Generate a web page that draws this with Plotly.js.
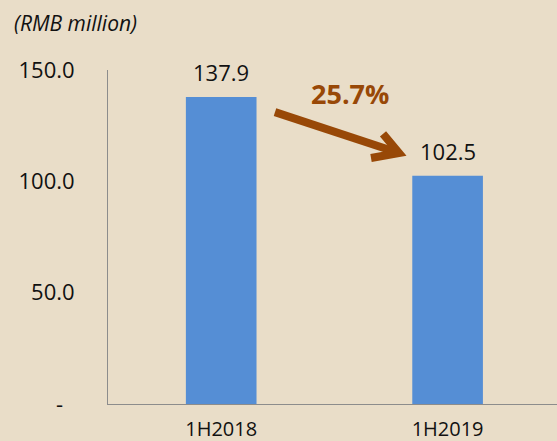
<!DOCTYPE html>
<html>
<head>
<meta charset="utf-8">
<script src="https://cdn.plot.ly/plotly-3.0.1.min.js"></script>
<style>
html,body{margin:0;padding:0;background:#e9ddc8;}
#chart{width:557px;height:441px;}
</style>
</head>
<body>
<div id="chart"></div>
<script>
const categories = ["1H2018", "1H2019"];
const values = [137.9, 102.5];
const valueLabels = ["137.9", "102.5"];
const yTickVals = [0, 50, 100, 150];
const yTickText = ["-\u00a0\u00a0", "50.0", "100.0", "150.0"];
const unitLabel = "(RMB million)";
const changeLabel = "25.7%";

const font = "'Open Sans', 'Liberation Sans', sans-serif";
const brown = "#984807";

const trace = {
  type: "bar",
  x: [0, 1],
  y: values,
  width: 0.312,
  marker: {color: "#558ed5"},
  hoverinfo: "skip"
};

const annotations = values.map((v, i) => ({
  x: i, y: v, xref: "x", yref: "y",
  text: valueLabels[i], showarrow: false,
  yanchor: "bottom", yshift: 8,
  font: {family: font, size: 22, color: "#111"}
}));
annotations.push({
  xref: "paper", yref: "paper", x: -0.2138, y: 1.1416,
  xanchor: "left", yanchor: "middle",
  text: "<i>" + unitLabel + "</i>", showarrow: false,
  font: {family: font, size: 21, color: "#111"}
});
annotations.push({
  xref: "x", yref: "y", x: 0.569, y: 139.5,
  text: "<b>" + changeLabel + "</b>", showarrow: false,
  xanchor: "center", yanchor: "middle",
  font: {family: font, size: 27, color: brown}
});

const shapes = [
  {type: "path", xref: "x", yref: "y",
   path: "M 0.2376 131.1 L 0.7853 112.7",
   line: {color: brown, width: 8}},
  {type: "path", xref: "x", yref: "y",
   path: "M 0.7147 121.3 L 0.7853 112.7 L 0.6617 110.5",
   line: {color: brown, width: 8}}
];

const layout = {
  width: 557, height: 441,
  margin: {l: 108, r: 0, t: 70, b: 37},
  paper_bgcolor: "#e9ddc8",
  plot_bgcolor: "rgba(0,0,0,0)",
  showlegend: false,
  xaxis: {
    range: [-0.5, 1.4832],
    tickvals: [0, 1], ticktext: categories,
    showline: true, linecolor: "#8c8c8c", linewidth: 1,
    showgrid: false, zeroline: false, ticks: "",
    ticklabelstandoff: 7,
    tickfont: {family: font, size: 20, color: "#111"},
    fixedrange: true
  },
  yaxis: {
    range: [0, 150],
    tickvals: yTickVals, ticktext: yTickText,
    showline: true, linecolor: "#8c8c8c", linewidth: 1,
    showgrid: false, zeroline: false, ticks: "",
    ticklabelstandoff: 28,
    tickfont: {family: font, size: 22, color: "#111"},
    fixedrange: true
  },
  annotations: annotations,
  shapes: shapes
};

Plotly.newPlot("chart", [trace], layout, {displayModeBar: false, staticPlot: true});
</script>
</body>
</html>
